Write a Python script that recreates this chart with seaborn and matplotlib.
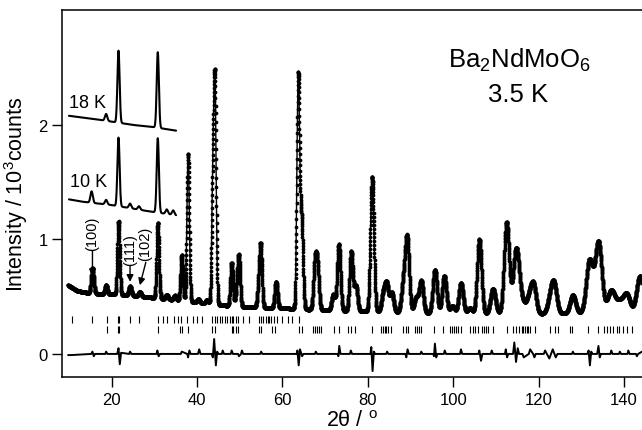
import numpy as np
import seaborn as sns
import matplotlib.pyplot as plt

# main 3.5 K pattern: peak positions (2theta), heights above background, widths (FWHM)
peak_pos = [15.5, 18.7, 21.6, 24.3, 26.6, 30.8, 32.9, 34.8, 36.4, 37.9, 40.3, 42.3,
            43.7, 44.2, 48.1, 49.3, 49.8, 54.4, 54.9, 58.5, 63.7, 64.5, 67.6, 68.2,
            71.9, 73.2, 76.1, 77.2, 81.0, 83.6, 84.4, 85.6, 88.3, 89.2, 91.3, 92.5,
            95.7, 97.9, 99.8, 101.8, 103.9, 106.1, 109.3, 112.5, 114.5, 115.2, 116.4,
            117.8, 118.8, 122.7, 123.6, 128.0, 131.9, 134.0, 136.7, 137.4, 139.0,
            140.6, 143.7]
peak_amp = [0.22, 0.08, 0.64, 0.08, 0.04, 0.66, 0.04, 0.04, 0.40, 1.29, 0.03, 0.03,
            1.00, 1.82, 0.38, 0.14, 0.42, 0.17, 0.52, 0.23, 2.04, 0.72, 0.38, 0.34,
            0.14, 0.58, 0.52, 0.22, 1.18, 0.15, 0.24, 0.17, 0.24, 0.64, 0.13, 0.28,
            0.38, 0.33, 0.07, 0.27, 0.05, 0.65, 0.22, 0.80, 0.40, 0.28, 0.08,
            0.14, 0.24, 0.12, 0.24, 0.16, 0.46, 0.62, 0.12, 0.10, 0.09,
            0.16, 0.31]
peak_fwhm = [0.7, 0.65, 0.65, 0.7, 0.7, 0.65, 0.7, 0.7, 0.65, 0.65, 0.7, 0.7,
             0.65, 0.65, 0.7, 0.7, 0.7, 0.7, 0.7, 0.75, 0.75, 0.75, 0.85, 0.85,
             0.9, 0.9, 0.9, 0.9, 0.95, 1.0, 1.0, 1.0, 1.1, 1.1, 1.1, 1.1,
             1.15, 1.15, 1.2, 1.2, 1.2, 1.2, 1.35, 1.4, 1.4, 1.4, 1.4,
             1.4, 1.4, 1.5, 1.5, 1.5, 1.8, 1.8, 1.8, 1.8, 1.8,
             1.8, 1.8]
bg_x = [9.8, 12, 15, 20, 25, 30, 35, 40, 45, 50, 60, 70, 80, 100, 120, 140, 144.2]
bg_y = [0.60, 0.55, 0.53, 0.52, 0.51, 0.49, 0.47, 0.45, 0.43, 0.41, 0.40, 0.38,
        0.37, 0.35, 0.35, 0.36, 0.37]

# 18 K and 10 K low-angle scans
k18_pos = [18.7, 21.6, 30.8]
k18_amp = [0.06, 0.63, 0.66]
k18_bg_x = [10, 18, 25, 30, 35.1]
k18_bg_y = [2.08, 2.04, 2.00, 1.98, 1.95]
k10_pos = [15.3, 18.7, 21.6, 24.3, 26.4, 30.8, 32.9, 34.4]
k10_amp = [0.10, 0.04, 0.60, 0.04, 0.03, 0.65, 0.04, 0.04]
k10_bg_x = [10, 13, 20, 28, 35.1]
k10_bg_y = [1.35, 1.33, 1.30, 1.25, 1.21]

# reflection markers
ticks_row1 = [10.8, 15.5, 18.8, 21.4, 21.8, 24.3, 26.5, 30.8, 32.1, 32.9, 34.6, 35.6,
              36.2, 37.6, 39.0, 39.9, 41.2, 43.6, 44.2, 44.7, 45.4, 45.9, 46.5, 46.9,
              47.6, 48.1, 48.5, 49.1, 49.7, 50.7, 52.2, 54.5, 55.0, 55.5, 56.1, 56.5,
              56.9, 57.4, 58.0, 58.7, 60.0, 61.2, 62.3, 63.9]
ticks_row2 = [18.8, 21.4, 21.8, 30.8, 36.0, 36.4, 37.9, 43.6, 44.2, 48.1, 48.5, 49.1,
              49.7, 54.5, 55.0, 57.6, 58.3, 63.9, 64.5, 67.1, 67.6, 68.2, 68.6, 69.0,
              72.1, 73.3, 75.4, 76.1, 77.0, 81.0, 83.0, 83.5, 83.9, 84.3, 84.6, 85.4,
              88.3, 88.9, 89.5, 91.1, 91.5, 92.0, 92.5, 95.5, 97.7, 99.3, 99.7, 100.2,
              100.7, 101.2, 101.8, 103.9, 104.6, 105.1, 105.9, 106.7, 107.2, 107.6,
              108.2, 109.4, 112.5, 114.1, 114.7, 115.3, 116.0, 116.4, 116.8, 117.2,
              117.6, 118.0, 119.2, 122.7, 123.8, 124.6, 127.4, 127.8, 131.6, 134.0,
              135.2, 136.0, 136.7, 137.5, 138.3, 138.9, 139.8, 140.6, 141.8]

# difference curve (obs - calc)
diff_x = [9.8, 10.5, 15.2, 15.5, 15.8, 16.1, 18.5, 18.7, 19.0, 21.3, 21.6, 21.9, 22.2,
          24.1, 24.3, 24.6, 30.5, 30.7, 31.0, 31.3, 36.2, 36.4, 37.7, 37.9, 38.2, 38.5,
          40.2, 40.5, 40.8, 43.4, 43.7, 44.0, 44.4, 44.7, 45.0, 45.8, 46.0, 46.3,
          47.9, 48.1, 48.4, 49.6, 49.8, 50.3, 50.5, 50.8, 54.8, 55.0, 55.3,
          63.3, 63.5, 63.8, 64.1, 64.6, 64.9, 67.6, 67.8, 68.1, 72.9, 73.1, 73.3,
          73.6, 75.8, 76.0, 76.3, 80.6, 80.8, 81.1, 81.4, 81.7, 84.3, 84.5, 84.8,
          88.8, 89.0, 89.3, 89.6, 92.3, 92.5, 92.8, 95.3, 95.5, 95.7, 96.0, 96.3,
          97.8, 98.0, 98.3, 101.6, 101.8, 102.1, 105.9, 106.1, 106.5, 106.8,
          108.8, 109.0, 109.3, 112.1, 112.3, 112.6, 112.9, 114.0, 114.3, 114.7,
          115.1, 115.4, 116.2, 116.5, 117.7, 118.0, 118.7, 119.0, 119.3, 121.2,
          121.5, 122.5, 123.3, 124.0, 124.4, 127.8, 128.0, 128.3, 131.4, 131.7,
          132.0, 132.3, 132.6, 133.7, 134.0, 134.3, 134.6, 136.8, 137.0, 137.3,
          138.8, 139.0, 139.3, 140.8, 141.0, 141.3, 142.8, 143.0, 143.3, 144.2]
diff_y = [-0.01, -0.01, 0.0, 0.02, -0.02, 0.0, 0.0, 0.02, 0.0, 0.0, 0.05, -0.09, 0.01,
          0.0, 0.02, 0.0, 0.0, 0.03, -0.02, 0.0, 0.0, 0.02, 0.0, -0.03, 0.03, 0.0,
          0.0, 0.04, 0.0, 0.0, -0.03, 0.13, -0.10, 0.02, 0.0, 0.0, 0.03, 0.0,
          0.0, 0.03, 0.0, 0.0, -0.02, 0.0, 0.03, 0.0, 0.0, 0.02, 0.0,
          0.0, 0.03, -0.10, 0.04, -0.02, 0.0, 0.0, 0.02, 0.0, 0.0, -0.02, 0.07,
          0.0, 0.0, 0.03, 0.0, 0.0, 0.06, -0.15, 0.02, 0.0, 0.0, 0.02, 0.0,
          0.0, -0.03, 0.04, 0.0, 0.0, 0.02, 0.0, 0.0, -0.02, 0.09, -0.03, 0.0,
          0.0, 0.03, 0.0, 0.0, 0.04, 0.0, 0.0, 0.03, -0.06, 0.0,
          0.0, 0.03, 0.0, 0.0, 0.04, -0.03, 0.0, 0.0, 0.10, -0.07,
          0.05, 0.0, 0.0, -0.03, 0.0, 0.04, 0.0, -0.03, 0.0, 0.0,
          0.03, -0.04, 0.04, -0.03, 0.0, 0.0, 0.02, 0.0, 0.0, 0.03,
          -0.10, 0.02, 0.0, 0.0, 0.07, -0.03, 0.0, 0.0, 0.03, 0.0,
          0.0, 0.02, 0.0, 0.0, 0.03, 0.0, 0.0, -0.02, 0.0, 0.02]


def profile(x, pos, amp, fwhm, bgx, bgy):
    y = np.interp(x, bgx, bgy)
    for p, a, w in zip(pos, amp, fwhm):
        y = y + a * np.exp(-4 * np.log(2) * ((x - p) / w) ** 2)
    return y


sns.set_style('ticks')
plt.rcParams['font.family'] = ['Liberation Sans', 'DejaVu Sans']
plt.rcParams['mathtext.fontset'] = 'custom'
plt.rcParams['mathtext.rm'] = 'Liberation Sans'
plt.rcParams['mathtext.it'] = 'Liberation Sans:italic'
plt.rcParams['text.color'] = 'black'
plt.rcParams['axes.labelcolor'] = 'black'

fig = plt.figure(figsize=(6.42, 4.31), dpi=100)
ax = fig.add_axes([0.097, 0.1223, 0.903, 0.853])

x_main = np.arange(9.8, 144.25, 0.02)
y_main = profile(x_main, peak_pos, peak_amp, peak_fwhm, bg_x, bg_y)
sns.lineplot(x=x_main, y=y_main, ax=ax, color='black', linewidth=1.0,
             marker='o', markersize=2.7, markeredgewidth=0)

x_ins = np.arange(10.0, 35.1, 0.03)
y18 = profile(x_ins, k18_pos, k18_amp, [0.65, 0.6, 0.6], k18_bg_x, k18_bg_y)
y10 = profile(x_ins, k10_pos, k10_amp, [0.65, 0.65, 0.6, 0.65, 0.65, 0.6, 0.65, 0.65],
              k10_bg_x, k10_bg_y)
sns.lineplot(x=x_ins, y=y18, ax=ax, color='black', linewidth=1.5)
sns.lineplot(x=x_ins, y=y10, ax=ax, color='black', linewidth=1.5)

ax.vlines(ticks_row1, 0.27, 0.33, color='black', linewidth=0.8)
ax.vlines(ticks_row2, 0.185, 0.245, color='black', linewidth=0.8)

sns.lineplot(x=diff_x, y=diff_y, ax=ax, color='black', linewidth=1.4, sort=False)

ax.text(10.0, 2.157, '18 K', fontsize=13)
ax.text(10.2, 1.47, '10 K', fontsize=13)
ax.text(115.4, 2.504, r'Ba$_\mathregular{2}$NdMoO$_\mathregular{6}$', fontsize=18.5,
        ha='center')
ax.text(115.2, 2.212, '3.5 K', fontsize=18.5, ha='center')

arrow = dict(arrowstyle='-|>', color='black', lw=1, mutation_scale=10,
             shrinkA=0, shrinkB=0)
ax.text(15.5, 1.06, '(100)', rotation=90, fontsize=10.5, ha='center', va='center')
ax.annotate('', xy=(15.5, 0.68), xytext=(15.5, 0.90), arrowprops=arrow)
ax.text(24.3, 0.92, '(111)', rotation=90, fontsize=10.5, ha='center', va='center')
ax.annotate('', xy=(24.3, 0.63), xytext=(24.3, 0.77), arrowprops=arrow)
ax.text(27.9, 0.97, '(102)', rotation=90, fontsize=10.5, ha='center', va='center')
ax.annotate('', xy=(26.6, 0.60), xytext=(28.0, 0.80), arrowprops=arrow)

ax.set_xlim(8.43, 144.2)
ax.set_ylim(-0.204, 3.007)
ax.set_xticks([20, 40, 60, 80, 100, 120, 140])
ax.set_yticks([0, 1, 2])
ax.tick_params(axis='both', direction='out', length=7, width=1, labelsize=12,
               color='black', labelcolor='black')
for s in ['left', 'bottom', 'top']:
    ax.spines[s].set_linewidth(1.1)
    ax.spines[s].set_color('black')
ax.spines['right'].set_visible(False)
ax.set_xlabel(r'2θ / $^\mathregular{o}$', fontsize=15.5, labelpad=2)
ax.set_ylabel(r'Intensity / 10$^\mathregular{3}$counts', fontsize=15.5, labelpad=6)

fig.savefig('out.png', dpi=100)
